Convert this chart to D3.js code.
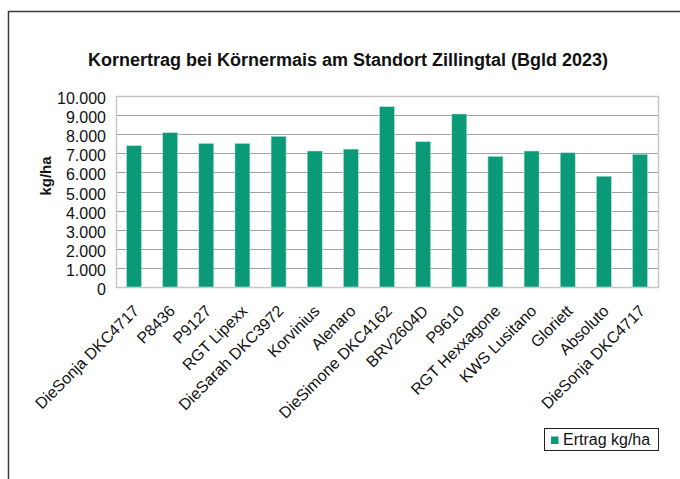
<!DOCTYPE html>
<html>
<head>
<meta charset="utf-8">
<script src="https://cdn.jsdelivr.net/npm/d3@7"></script>
<style>
  html, body { margin: 0; padding: 0; background: #fff; }
  svg { display: block; font-family: "Liberation Sans", Arial, sans-serif; }
</style>
</head>
<body>
<svg id="chart" width="680" height="479"></svg>
<script>
const varieties = [
  'DieSonja DKC4717', 'P8436', 'P9127', 'RGT Lipexx', 'DieSarah DKC3972',
  'Korvinius', 'Alenaro', 'DieSimone DKC4162', 'BRV2604D', 'P9610',
  'RGT Hexxagone', 'KWS Lusitano', 'Gloriett', 'Absoluto', 'DieSonja DKC4717'
]
const ertrag = [7400, 8080, 7520, 7520, 7890, 7120, 7220, 9440, 7610, 9060, 6840, 7120, 7030, 5800, 6950]
const yTicks = [0, 1000, 2000, 3000, 4000, 5000, 6000, 7000, 8000, 9000, 10000]

const title = 'Kornertrag bei Körnermais am Standort Zillingtal (Bgld 2023)'
const seriesName = 'Ertrag kg/ha'
const BAR = '#0a9a77'

const plot = { left: 116, right: 658, top: 96, bottom: 287 }
const svg = d3.select('#chart')

// outer frame (only top and left edges are visible)
svg.append('path')
  .attr('d', 'M8.5,479 L8.5,11.5 L680,11.5')
  .attr('fill', 'none')
  .attr('stroke', '#3a3a3a')
  .attr('stroke-width', 1.5)

svg.append('text')
  .attr('x', 348)
  .attr('y', 66)
  .attr('text-anchor', 'middle')
  .attr('font-size', 18)
  .attr('font-weight', 'bold')
  .attr('fill', '#111')
  .text(title)

const x = d3.scaleBand()
  .domain(d3.range(varieties.length))
  .range([plot.left, plot.right])
  .paddingInner(0.585)
  .paddingOuter(0.29)

const y = d3.scaleLinear().domain([0, 10000]).range([plot.bottom, plot.top])

// gridlines
svg.append('g')
  .selectAll('line')
  .data(yTicks.slice(1, -1))
  .join('line')
  .attr('x1', plot.left)
  .attr('x2', plot.right)
  .attr('y1', d => Math.round(y(d)) + 0.5)
  .attr('y2', d => Math.round(y(d)) + 0.5)
  .attr('stroke', '#a3a3a3')
  .attr('stroke-width', 1.2)

// plot frame
svg.append('rect')
  .attr('x', plot.left + 0.5)
  .attr('y', plot.top + 0.5)
  .attr('width', plot.right - plot.left)
  .attr('height', plot.bottom - plot.top)
  .attr('fill', 'none')
  .attr('stroke', '#c6c6c6')
  .attr('stroke-width', 1.5)

// bars
svg.append('g')
  .selectAll('rect')
  .data(ertrag)
  .join('rect')
  .attr('x', (d, i) => x(i))
  .attr('width', x.bandwidth())
  .attr('y', d => y(d))
  .attr('height', d => y(0) - y(d))
  .attr('fill', BAR)
  .attr('stroke', '#b9e2d6')
  .attr('stroke-width', 0.6)

// y axis labels
const yAxis = d3.axisLeft(y)
  .tickValues(yTicks)
  .tickSize(0)
  .tickPadding(10)
  .tickFormat(d => d3.format(',')(d).replace(/,/g, '.'))

svg.append('g')
  .attr('transform', `translate(${plot.left},0)`)
  .call(yAxis)
  .call(g => g.select('.domain').remove())
  .call(g => g.selectAll('text')
    .attr('font-size', 16)
    .attr('dy', '0.47em')
    .attr('font-family', '"Liberation Sans", Arial, sans-serif')
    .attr('fill', '#111'))

svg.append('text')
  .attr('transform', `translate(50.5,176) rotate(-90)`)
  .attr('text-anchor', 'middle')
  .attr('font-size', 15)
  .attr('font-weight', 'bold')
  .attr('fill', '#111')
  .text('kg/ha')

// x labels, rotated
svg.append('g')
  .selectAll('text')
  .data(varieties)
  .join('text')
  .attr('transform', (d, i) => `translate(${x(i) + x.bandwidth() / 2 + 6},${plot.bottom + 25}) rotate(-45)`)
  .attr('text-anchor', 'end')
  .attr('font-size', 16)
  .attr('fill', '#111')
  .text(d => d)

// legend
const lg = svg.append('g').attr('transform', 'translate(544,428)')
lg.append('rect')
  .attr('x', 0.5).attr('y', 0.5)
  .attr('width', 114).attr('height', 22)
  .attr('fill', '#fff')
  .attr('stroke', '#222')
  .attr('stroke-width', 1)
lg.append('rect')
  .attr('x', 7).attr('y', 8.5)
  .attr('width', 7.5).attr('height', 7.5)
  .attr('fill', BAR)
lg.append('text')
  .attr('x', 19).attr('y', 17)
  .attr('font-size', 16)
  .attr('fill', '#111')
  .text(seriesName)
</script>
</body>
</html>
